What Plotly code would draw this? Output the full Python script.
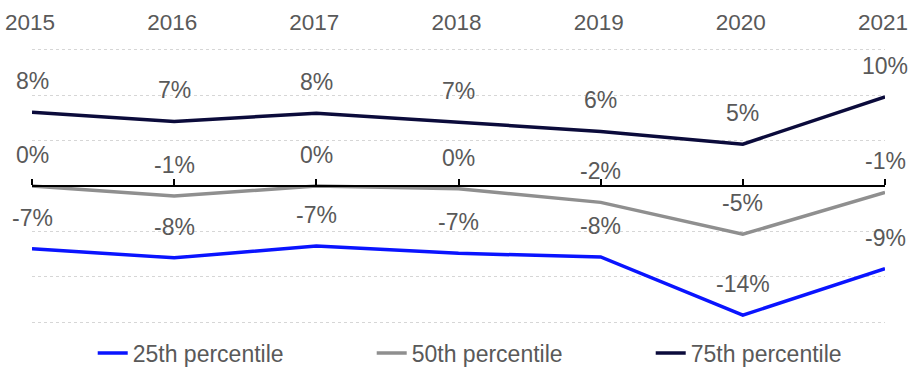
import plotly.graph_objects as go

# Annual return percentiles, in percent
years = [2015, 2016, 2017, 2018, 2019, 2020, 2021]
p25 = [-6.9, -7.9, -6.6, -7.4, -7.8, -14.2, -9.1]
p50 = [0.0, -1.1, 0.0, -0.3, -1.8, -5.3, -0.7]
p75 = [8.1, 7.1, 8.0, 7.0, 6.0, 4.6, 9.8]

series = [
    ("25th percentile", p25, "#0a14ff"),
    ("50th percentile", p50, "#8f8f8f"),
    ("75th percentile", p75, "#0b0b3b"),
]

TEXT = "#595959"
FONT = "Liberation Sans, Arial, sans-serif"
SIZE = 23


def pct(v):
    return f"{int(round(v))}%"


fig = go.Figure()
annotations = []
for name, vals, color in series:
    fig.add_trace(go.Scatter(
        x=years, y=vals, name=name, mode="lines",
        line=dict(color=color, width=3.5),
        xaxis="x", yaxis="y",
    ))
    for yr, v in zip(years, vals):
        annotations.append(dict(
            x=yr, y=v, xref="x", yref="y", text=pct(v), showarrow=False,
            yanchor="bottom", xanchor="center", yshift=16,
            font=dict(size=SIZE, color=TEXT, family=FONT),
        ))

# carrier trace for the year labels along the top edge
fig.add_trace(go.Scatter(
    x=years, y=[None] * len(years), xaxis="x2", yaxis="y",
    showlegend=False, hoverinfo="skip", mode="lines",
))

fig.update_layout(
    width=909, height=367,
    margin=dict(l=32, r=24, t=45, b=40, autoexpand=False),
    plot_bgcolor="white", paper_bgcolor="white",
    font=dict(family=FONT, size=SIZE, color=TEXT),
    showlegend=True,
    legend=dict(
        orientation="h", xref="container", yref="container",
        x=0.102, xanchor="left", y=0.038, yanchor="middle",
        entrywidth=234, entrywidthmode="pixels",
        font=dict(size=SIZE, color=TEXT, family=FONT),
    ),
    xaxis=dict(
        range=[2015, 2021], anchor="free", position=0.5, side="top",
        showline=True, linecolor="black", linewidth=1.5,
        ticks="outside", ticklen=6, tickwidth=1.5, tickcolor="black",
        tickvals=years, showticklabels=False, showgrid=False, zeroline=False,
    ),
    xaxis2=dict(
        range=[2015, 2021], overlaying="x", anchor="y", side="top",
        tickvals=years, ticktext=[str(y) for y in years],
        ticks="outside", ticklen=5, tickcolor="rgba(0,0,0,0)",
        ticklabeloverflow="allow", ticklabelshift=-2,
        showgrid=False, zeroline=False, showline=False,
        tickfont=dict(size=22.5, color=TEXT, family=FONT),
    ),
    yaxis=dict(
        range=[-15.5, 15.5], tickvals=[-15, -10, -5, 5, 10, 15],
        showticklabels=False, showgrid=True, gridcolor="#d6d6d6",
        griddash="dot", gridwidth=1, zeroline=False, showline=False,
    ),
    annotations=annotations,
)

fig.write_html("out.html")
